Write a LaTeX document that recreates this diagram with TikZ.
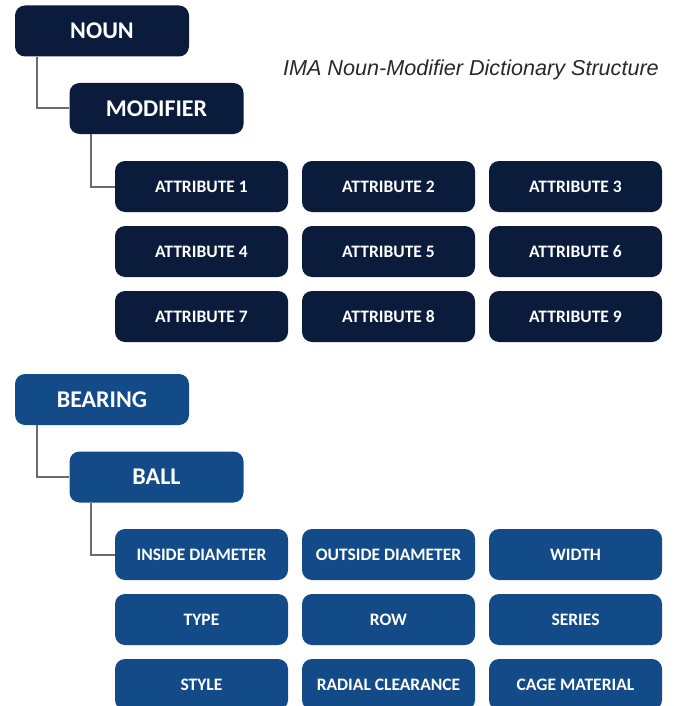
\documentclass[tikz,border=0pt]{standalone}
\usepackage{fontspec}
\setmainfont{Carlito}
\newfontfamily\titlefont{Liberation Sans}
\usepackage{tikz}
\usetikzlibrary{positioning,calc}
\definecolor{imanavy}{RGB}{10,27,60}
\definecolor{imablue}{RGB}{18,75,136}
\definecolor{linkgray}{RGB}{108,108,108}
\definecolor{titlegray}{RGB}{40,40,40}
\tikzset{%
  nounbox/.style={fill=#1,text=white,rounded corners=10pt,minimum width=174pt,minimum height=51pt,inner sep=0pt,font=\bfseries\fontsize{24}{28}\selectfont},
  attrbox/.style={fill=#1,text=white,rounded corners=10pt,minimum width=173pt,minimum height=51pt,inner sep=0pt,font=\bfseries\fontsize{17.5}{21}\selectfont},
  link/.style={draw=linkgray,line width=2pt},
}

\begin{document}
\begin{tikzpicture}[x=1pt,y=-1pt]
    \useasboundingbox (0,0) rectangle (673,706);
    % generic structure
    \node[nounbox=imanavy] (noun) at (102,31) {NOUN};
    \node[nounbox=imanavy] (modifier) at (156.5,108.5) {MODIFIER};
    \node[font=\titlefont\itshape\fontsize{21.6}{25}\selectfont,text=titlegray,anchor=east,inner sep=0pt] (title) at (659,70) {IMA Noun-Modifier Dictionary Structure};
    \node[attrbox=imanavy] (a1) at (201.5,186.5) {ATTRIBUTE 1};
    \node[attrbox=imanavy] (a2) at (388.5,186.5) {ATTRIBUTE 2};
    \node[attrbox=imanavy] (a3) at (575.5,186.5) {ATTRIBUTE 3};
    \node[attrbox=imanavy] (a4) at (201.5,251.5) {ATTRIBUTE 4};
    \node[attrbox=imanavy] (a5) at (388.5,251.5) {ATTRIBUTE 5};
    \node[attrbox=imanavy] (a6) at (575.5,251.5) {ATTRIBUTE 6};
    \node[attrbox=imanavy] (a7) at (201.5,316.5) {ATTRIBUTE 7};
    \node[attrbox=imanavy] (a8) at (388.5,316.5) {ATTRIBUTE 8};
    \node[attrbox=imanavy] (a9) at (575.5,316.5) {ATTRIBUTE 9};
    \draw[link] ([xshift=22pt]noun.south west) |- (modifier.west);
    \draw[link] ([xshift=22pt]modifier.south west) |- (a1.west);
    % bearing example
    \node[nounbox=imablue] (bearing) at (102,399.5) {BEARING};
    \node[nounbox=imablue] (ball) at (156.5,477) {BALL};
    \node[attrbox=imablue] (insidedia) at (201.5,554.5) {INSIDE DIAMETER};
    \node[attrbox=imablue] (outsidedia) at (388.5,554.5) {OUTSIDE DIAMETER};
    \node[attrbox=imablue] (width) at (575.5,554.5) {WIDTH};
    \node[attrbox=imablue] (type) at (201.5,619.5) {TYPE};
    \node[attrbox=imablue] (row) at (388.5,619.5) {ROW};
    \node[attrbox=imablue] (series) at (575.5,619.5) {SERIES};
    \node[attrbox=imablue] (style) at (201.5,684.5) {STYLE};
    \node[attrbox=imablue] (clearance) at (388.5,684.5) {RADIAL CLEARANCE};
    \node[attrbox=imablue] (cage) at (575.5,684.5) {CAGE MATERIAL};
    \draw[link] ([xshift=22pt]bearing.south west) |- (ball.west);
    \draw[link] ([xshift=22pt]ball.south west) |- (insidedia.west);
\end{tikzpicture}
\end{document}
